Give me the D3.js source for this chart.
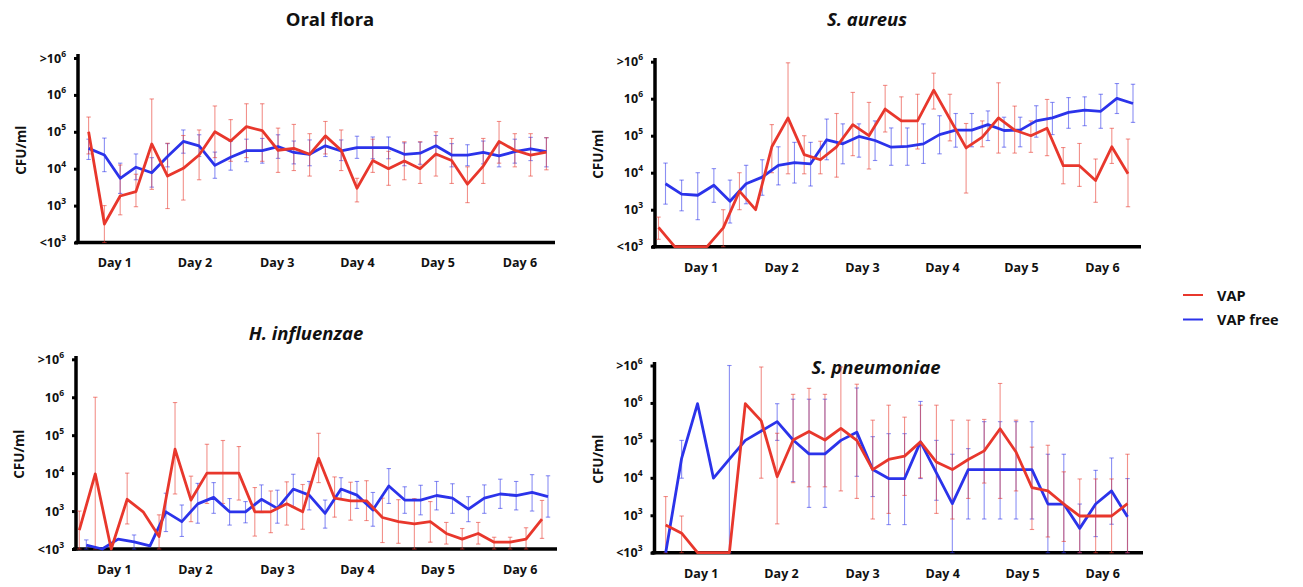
<!DOCTYPE html>
<html><head><meta charset="utf-8">
<script src="https://cdn.jsdelivr.net/npm/d3@7"></script>
<style>
body{margin:0;background:#fff;}
svg{display:block;font-family:"Open Sans",sans-serif;}
</style></head>
<body><svg id="c" width="1303" height="587"></svg>
<script>
// ---- data (log10 CFU/ml; 2 = "<10^3", 7 = ">10^6") ----
const yLevels = [2, 3, 4, 5, 6, 7];
const yLabels = [["<", "3"], ["", "3"], ["", "4"], ["", "5"], ["", "6"], [">", "6"]];
const dayLabels = ["Day 1", "Day 2", "Day 3", "Day 4", "Day 5", "Day 6"];
const seriesNames = ["VAP", "VAP free"];

// Oral flora
const oralVap    = [5.0,2.5,3.26,3.38,4.67,3.8,4.01,4.37,5.0,4.75,5.14,5.03,4.5,4.55,4.39,4.89,4.5,3.47,4.22,4.0,4.21,4.0,4.4,4.22,3.58,4.07,4.74,4.5,4.37,4.45];
const oralVapHi  = [5.4,3.0,4.1,3.85,5.89,4.69,4.9,5.05,5.7,5.33,5.76,5.76,5.1,5.2,4.95,5.28,5.05,3.74,4.8,4.47,4.73,4.73,5.0,4.82,4.05,4.82,5.28,4.95,4.95,4.84];
const oralVapLo  = [4.4,2.0,2.75,2.97,3.44,2.92,3.15,3.7,4.3,4.2,4.3,4.2,3.9,3.95,3.8,4.4,3.95,3.1,3.9,3.55,3.7,3.6,3.8,3.6,3.08,3.6,4.15,4.05,3.8,3.97];
const oralFree   = [4.55,4.37,3.74,4.04,3.89,4.33,4.74,4.62,4.09,4.31,4.49,4.49,4.6,4.44,4.39,4.62,4.48,4.57,4.57,4.57,4.39,4.42,4.62,4.37,4.37,4.44,4.35,4.46,4.54,4.46];
const oralFreeHi = [4.8,4.83,4.15,4.4,4.3,4.68,5.05,4.92,4.45,4.74,4.8,4.82,4.92,4.75,4.78,4.87,4.78,4.88,4.86,4.86,4.7,4.72,4.9,4.68,4.65,4.75,4.68,4.8,4.85,4.84];
const oralFreeLo = [4.25,3.92,3.33,3.7,3.5,4.05,4.42,4.33,3.74,3.96,4.19,4.15,4.28,4.13,4.08,4.33,4.22,4.28,4.27,4.27,4.08,4.12,4.35,4.05,4.08,4.13,4.05,4.15,4.22,4.05];

// S. aureus
const saVap    = [2.52,2.0,2.0,2.0,2.51,3.5,3.0,4.7,5.48,4.49,4.35,4.7,5.3,5.0,5.72,5.4,5.4,6.23,5.45,4.67,4.96,5.48,5.15,5.0,5.2,4.19,4.19,3.79,4.7,3.97];
const saVapHi  = [2.8,null,null,null,3.0,4.0,null,5.3,6.97,5.0,4.85,5.6,6.17,5.9,6.36,6.05,6.12,6.69,6.12,5.33,5.4,6.43,5.8,5.4,5.98,4.68,4.79,4.37,5.2,4.91];
const saVapLo  = [2.2,null,null,null,2.0,3.0,null,4.0,3.97,3.97,3.97,3.88,4.46,4.1,5.1,4.68,4.64,5.72,4.86,3.45,4.7,4.53,4.53,4.55,4.46,3.7,3.63,3.2,4.25,3.08];
const saFree   = [3.7,3.42,3.39,3.66,3.23,3.7,3.88,4.2,4.27,4.24,4.89,4.78,4.98,4.87,4.69,4.71,4.78,5.03,5.15,5.15,5.3,5.14,5.15,5.4,5.48,5.63,5.69,5.66,6.01,5.87];
const saFreeHi = [4.26,3.8,4.0,4.11,3.8,4.2,4.35,4.7,4.82,4.82,5.45,5.32,5.32,5.4,5.21,5.21,5.32,5.54,5.6,5.6,5.67,5.5,5.5,5.81,5.9,6.03,6.05,6.12,6.41,6.39];
const saFreeLo = [3.15,2.97,2.73,3.2,2.64,3.16,3.39,3.67,3.72,3.64,4.35,4.24,4.42,4.33,4.2,4.2,4.25,4.51,4.69,4.7,4.87,4.69,4.7,4.96,5.03,5.2,5.27,5.2,5.6,5.36];

// H. influenzae
const hiVap    = [2.5,3.98,2.0,3.31,2.98,2.33,4.63,3.29,4.0,4.0,4.0,2.98,2.98,3.19,2.98,4.39,3.34,3.27,3.27,2.83,2.72,2.66,2.72,2.41,2.26,2.41,2.18,2.18,2.26,2.79];
const hiVapHi  = [3.0,6.0,null,4.0,null,2.9,5.86,3.92,4.76,4.86,4.7,3.62,3.53,3.77,3.7,5.05,3.9,3.76,3.8,3.34,3.3,3.33,3.25,2.7,2.54,2.7,2.31,2.31,2.56,3.28];
const hiVapLo  = [2.0,2.0,null,2.66,null,2.0,3.45,2.72,3.2,3.2,3.29,2.34,2.43,2.63,2.52,3.75,2.84,2.76,2.75,2.17,2.15,2.0,2.18,2.13,2.0,2.13,2.0,2.0,2.0,2.28];
const hiFree   = [2.1,2.0,2.26,2.19,2.08,2.98,2.72,3.19,3.36,2.98,2.98,3.31,3.07,3.58,3.42,2.94,3.58,3.42,3.03,3.66,3.29,3.29,3.41,3.34,3.05,3.34,3.45,3.41,3.49,3.38];
const hiFreeHi = [2.24,null,null,2.37,null,3.47,3.16,3.73,3.75,3.33,3.25,3.69,3.55,3.97,3.78,3.29,3.88,3.78,3.49,4.12,3.64,3.68,3.78,3.72,3.38,3.69,3.84,3.78,3.96,3.93];
const hiFreeLo = [2.0,null,null,2.0,null,2.46,2.33,2.68,2.94,2.63,2.69,2.96,2.68,3.11,3.03,2.55,3.31,3.07,2.6,3.2,2.94,2.9,3.03,2.94,2.72,2.94,3.07,3.03,3.0,2.84];

// S. pneumoniae
const spVap    = [2.74,2.52,2.0,2.0,2.0,5.98,5.52,4.03,5.01,5.24,5.01,5.32,5.0,4.22,4.49,4.58,4.96,4.42,4.22,4.49,4.72,5.31,4.69,3.74,3.65,3.3,2.98,2.98,2.98,3.31];
const spVapHi  = [3.5,2.98,null,null,null,null,6.96,5.19,6.23,6.39,6.23,6.96,6.5,5.54,5.94,5.62,5.94,5.94,5.54,5.54,5.56,6.52,5.54,4.82,4.87,4.16,3.97,3.97,3.97,4.63];
const spVapLo  = [2.0,2.0,null,null,null,null,3.99,2.77,3.87,3.76,3.76,3.65,3.45,2.9,3.05,3.53,4.0,3.05,2.9,3.45,3.86,3.45,3.65,2.62,2.42,2.3,2.0,2.0,2.0,2.0];
const spFree   = [2.0,4.52,5.98,3.99,4.5,5.0,5.25,5.5,5.01,4.64,4.64,5.0,5.22,4.22,3.98,3.98,4.96,4.13,3.31,4.22,4.22,4.22,4.22,4.22,3.3,3.3,2.65,3.3,3.65,2.96];
const spFreeHi = [null,5.0,null,null,7.0,null,null,5.98,6.1,6.1,6.1,null,6.4,5.1,5.18,5.18,6.04,5.0,4.63,4.78,5.5,5.5,5.5,5.5,4.63,4.63,3.3,4.2,4.53,3.98];
const spFreeLo = [null,3.99,null,null,2.0,null,null,5.0,3.9,3.21,3.21,null,4.04,3.5,2.75,2.75,3.98,3.4,2.0,2.9,2.9,2.9,2.9,2.9,2.0,2.0,2.0,2.43,2.76,2.0];

// ---- layout ----
const colors = {vap: "#e8372c", free: "#2b33ea"};
const panels = [
  {title: "Oral flora", italic: false, tx: 330, ty: 26, ox: 78, xEnd: 555, axisTop: 54, yTop: 58, yBot: 242.5,
   red: [88.6, 546.4], blue: [88.6, 546.4], dayIdx: [1.63, 6.71, 11.92, 17.0, 22.09, 27.29], lblX: 26,
   vap: [oralVap, oralVapHi, oralVapLo], free: [oralFree, oralFreeHi, oralFreeLo]},
  {title: "S. aureus", italic: true, tx: 867, ty: 26, ox: 655, xEnd: 1141, axisTop: 58, yTop: 61.7, yBot: 246.7,
   red: [658.5, 1128], blue: [665.5, 1133], dayIdx: [2.61, 7.57, 12.57, 17.51, 22.39, 27.39], lblX: 603,
   vap: [saVap, saVapHi, saVapLo], free: [saFree, saFreeHi, saFreeLo]},
  {title: "H. influenzae", italic: true, tx: 306, ty: 340, ox: 76, xEnd: 557, axisTop: 356, yTop: 359.3, yBot: 549,
   red: [79.3, 542], blue: [86.3, 548], dayIdx: [2.17, 7.25, 12.39, 17.4, 22.44, 27.6], lblX: 24,
   vap: [hiVap, hiVapHi, hiVapLo], free: [hiFree, hiFreeHi, hiFreeLo]},
  {title: "S. pneumoniae", italic: true, tx: 876, ty: 374, ox: 654.5, xEnd: 1143, axisTop: 362, yTop: 365.5, yBot: 552.7,
   red: [665.7, 1127.5], blue: [665.7, 1127.5], dayIdx: [2.2, 7.24, 12.33, 17.36, 22.38, 27.41], lblX: 603,
   vap: [spVap, spVapHi, spVapLo], free: [spFree, spFreeHi, spFreeLo]}
];

const svg = d3.select("#c");

panels.forEach(p => {
  const g = svg.append("g");
  const y = d3.scaleLinear().domain([2, 7]).range([p.yBot, p.yTop]);
  const n = p.vap[0].length;
  const xr = d3.scaleLinear().domain([0, n - 1]).range(p.red);
  const xb = d3.scaleLinear().domain([0, n - 1]).range(p.blue);

  // title
  g.append("text").attr("x", p.tx).attr("y", p.ty).attr("text-anchor", "middle")
    .attr("font-size", 18.5).attr("font-weight", 700).attr("font-style", p.italic ? "italic" : "normal")
    .attr("fill", "#111").text(p.title);

  // y label
  g.append("text").attr("transform", `translate(${p.lblX},${(p.yTop + p.yBot) / 2}) rotate(-90)`)
    .attr("text-anchor", "middle").attr("font-size", 13.5).attr("font-weight", 700).attr("fill", "#111")
    .text("CFU/ml");

  // y axis
  const yAxis = d3.axisLeft(y).tickValues(yLevels).tickSize(4).tickFormat("");
  const ya = g.append("g").attr("transform", `translate(${p.ox},0)`).call(yAxis);
  ya.select(".domain").remove();
  ya.selectAll(".tick line").attr("stroke", "#000").attr("stroke-width", 3);
  g.append("line").attr("x1", p.ox).attr("x2", p.ox).attr("y1", p.axisTop).attr("y2", p.yBot + 1.5)
    .attr("stroke", "#000").attr("stroke-width", 3.5);
  yLevels.forEach((lv, i) => {
    const t = g.append("text").attr("x", p.ox - 12).attr("y", y(lv) + 4.5).attr("text-anchor", "end")
      .attr("font-size", 12.5).attr("font-weight", 700).attr("fill", "#111");
    t.append("tspan").text(yLabels[i][0] + "10");
    t.append("tspan").attr("dy", -6).attr("font-size", 8.5).text(yLabels[i][1]);
  });

  // x axis
  g.append("line").attr("x1", p.ox - 3).attr("x2", p.xEnd).attr("y1", p.yBot).attr("y2", p.yBot)
    .attr("stroke", "#000").attr("stroke-width", 3.5);
  const xAxis = d3.axisBottom(xr).tickValues(p.dayIdx).tickSize(0).tickFormat((d, i) => dayLabels[i]);
  const xa = g.append("g").attr("transform", `translate(0,${p.yBot + 13})`).call(xAxis);
  xa.select(".domain").remove();
  xa.selectAll(".tick text").attr("font-size", 12.5).attr("font-weight", 700).attr("fill", "#111")
    .attr("font-family", "'Open Sans',sans-serif").attr("dy", "0.71em");

  // error bars + lines (drawn over the axes)
  function drawSeries(data, x, color) {
    const [v, hi, lo] = data;
    const eb = g.append("g").attr("stroke", color).attr("stroke-opacity", 0.55).attr("stroke-width", 1.1);
    v.forEach((d, i) => {
      if (hi[i] == null || lo[i] == null) return;
      const cx = x(i);
      eb.append("line").attr("x1", cx).attr("x2", cx).attr("y1", y(hi[i])).attr("y2", y(lo[i]));
      eb.append("line").attr("x1", cx - 2.2).attr("x2", cx + 2.2).attr("y1", y(hi[i])).attr("y2", y(hi[i]));
      eb.append("line").attr("x1", cx - 2.2).attr("x2", cx + 2.2).attr("y1", y(lo[i])).attr("y2", y(lo[i]));
    });
    return () => g.append("path").datum(v)
      .attr("fill", "none").attr("stroke", color).attr("stroke-width", 2.8).attr("stroke-linejoin", "round")
      .attr("d", d3.line().x((d, i) => x(i)).y(d => y(d)));
  }
  const lineFree = drawSeries(p.free, xb, colors.free);
  const lineVap = drawSeries(p.vap, xr, colors.vap);
  lineFree();
  lineVap();
});

// legend
const lg = svg.append("g");
[colors.vap, colors.free].forEach((c, i) => {
  const yy = 295 + i * 24.5;
  lg.append("line").attr("x1", 1183).attr("x2", 1203).attr("y1", yy).attr("y2", yy)
    .attr("stroke", c).attr("stroke-width", 2);
  lg.append("text").attr("x", 1217).attr("y", yy + 5.5).attr("font-size", 14.5).attr("font-weight", 700)
    .attr("fill", "#111").text(seriesNames[i]);
});
</script></body></html>
